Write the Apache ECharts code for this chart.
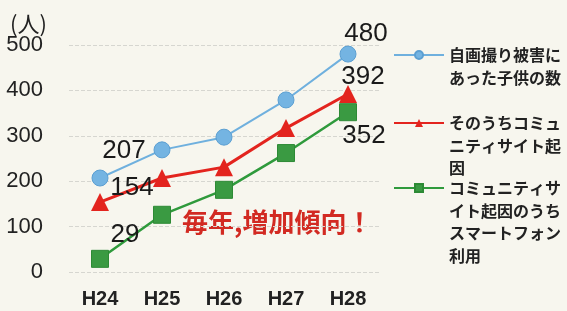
<!DOCTYPE html>
<html>
<head>
<meta charset="utf-8">
<script src="https://cdn.jsdelivr.net/npm/echarts@6/dist/echarts.min.js"></script>
<style>
  html, body { margin: 0; padding: 0; background: #f7f6ee; }
  #chart { width: 567px; height: 311px; }
</style>
</head>
<body>
<div id="chart"></div>
<script>
// 年度
const years = ['H24', 'H25', 'H26', 'H27', 'H28'];
// 自画撮り被害にあった子供の数
const victims = [207, 269, 297, 379, 480];
// そのうちコミュニティサイト起因
const viaCommunity = [154, 207, 231, 317, 392];
// コミュニティサイト起因のうちスマートフォン利用
const viaSmartphone = [29, 126, 181, 262, 352];

const seriesNames = [
  '自画撮り被害にあった子供の数',
  'そのうちコミュニティサイト起因',
  'コミュニティサイト起因のうちスマートフォン利用',
];
const legendLines = [
  ['自画撮り被害に', 'あった子供の数'],
  ['そのうちコミュ', 'ニティサイト起', '因'],
  ['コミュニティサ', 'イト起因のうち', 'スマートフォン', '利用'],
];
const yMin = 0;
const yMax = 500;
const yStep = 100;

const LH = 22.5;
const numFont = '"Liberation Sans", Arial, sans-serif';
const jpFont = '"Noto Sans CJK JP", sans-serif';

// 最初と最後の点だけ数値を出す
const withEndLabels = (values, offsets) =>
  values.map((v, i) => {
    if (i === 0 || i === values.length - 1) {
      const off = i === 0 ? offsets[0] : offsets[1];
      return {
        value: v,
        label: {
          show: true,
          position: 'inside',
          offset: off,
          formatter: '{c}',
          fontFamily: numFont,
          fontSize: 26,
          color: '#1a1a1a',
        },
      };
    }
    return v;
  });

const legendFor = (idx, top) => ({
  orient: 'vertical',
  left: 393,
  top: top,
  padding: 0,
  itemWidth: 50,
  itemHeight: 10,
  data: [seriesNames[idx]],
  formatter: () => {
    const lines = legendLines[idx];
    // 先頭行をアイコンの高さに合わせるため空行を足す
    return '\n'.repeat(lines.length - 1) + lines.join('\n');
  },
  textStyle: {
    fontFamily: jpFont,
    fontSize: 16,
    fontWeight: 'bold',
    color: '#222',
    lineHeight: LH,
  },
});

const chart = echarts.init(document.getElementById('chart'));

const option = {
  backgroundColor: '#f7f6ee',
  animation: false,
  title: {
    text: '(人)',
    left: 5,
    top: 8,
    textStyle: {
      fontFamily: jpFont,
      fontSize: 22,
      fontWeight: 'normal',
      color: '#222',
    },
  },
  grid: { left: 69, right: 188, top: 45, bottom: 39 },
  legend: [
    legendFor(0, 55 - LH * 1.5),
    legendFor(1, 123 - LH * 2.5),
    legendFor(2, 188 - LH * 3.5),
  ],
  xAxis: {
    type: 'category',
    data: years,
    boundaryGap: true,
    axisLine: { show: false },
    axisTick: { show: false },
    axisLabel: {
      margin: 17,
      fontFamily: numFont,
      fontWeight: 'bold',
      fontSize: 20,
      color: '#222',
    },
  },
  yAxis: {
    type: 'value',
    min: yMin,
    max: yMax,
    interval: yStep,
    axisLine: { show: false },
    axisTick: { show: false },
    axisLabel: {
      margin: 26,
      fontFamily: numFont,
      fontSize: 22,
      color: '#222',
    },
    splitLine: {
      show: true,
      lineStyle: { color: '#d6d6d0', type: 'dashed', width: 1 },
    },
  },
  series: [
    {
      name: seriesNames[2],
      type: 'line',
      symbol: 'rect',
      symbolSize: 17,
      lineStyle: { color: '#2f9a3c', width: 2.5 },
      itemStyle: { color: '#3a9a42', borderColor: '#2d8a35', borderWidth: 1 },
      data: withEndLabels(viaSmartphone, [[25, -24], [16, 24]]),
    },
    {
      name: seriesNames[1],
      type: 'line',
      symbol: 'triangle',
      symbolSize: 18,
      lineStyle: { color: '#e3241e', width: 3 },
      itemStyle: { color: '#e3241e' },
      data: withEndLabels(viaCommunity, [[32, -14], [15, -17]]),
    },
    {
      name: seriesNames[0],
      type: 'line',
      symbol: 'circle',
      symbolSize: 16,
      lineStyle: { color: '#6fb0de', width: 2 },
      itemStyle: { color: '#74b4e2', borderColor: '#5b9fd2', borderWidth: 1 },
      data: withEndLabels(victims, [[24, -27], [18, -20]]),
    },
  ],
  graphic: [
    {
      type: 'text',
      left: 182,
      top: 209,
      style: {
        text: '毎年,増加傾向！',
        fontFamily: jpFont,
        fontSize: 26,
        fontWeight: 'bold',
        fill: '#d22a22',
      },
    },
  ],
};

chart.setOption(option);
</script>
</body>
</html>
